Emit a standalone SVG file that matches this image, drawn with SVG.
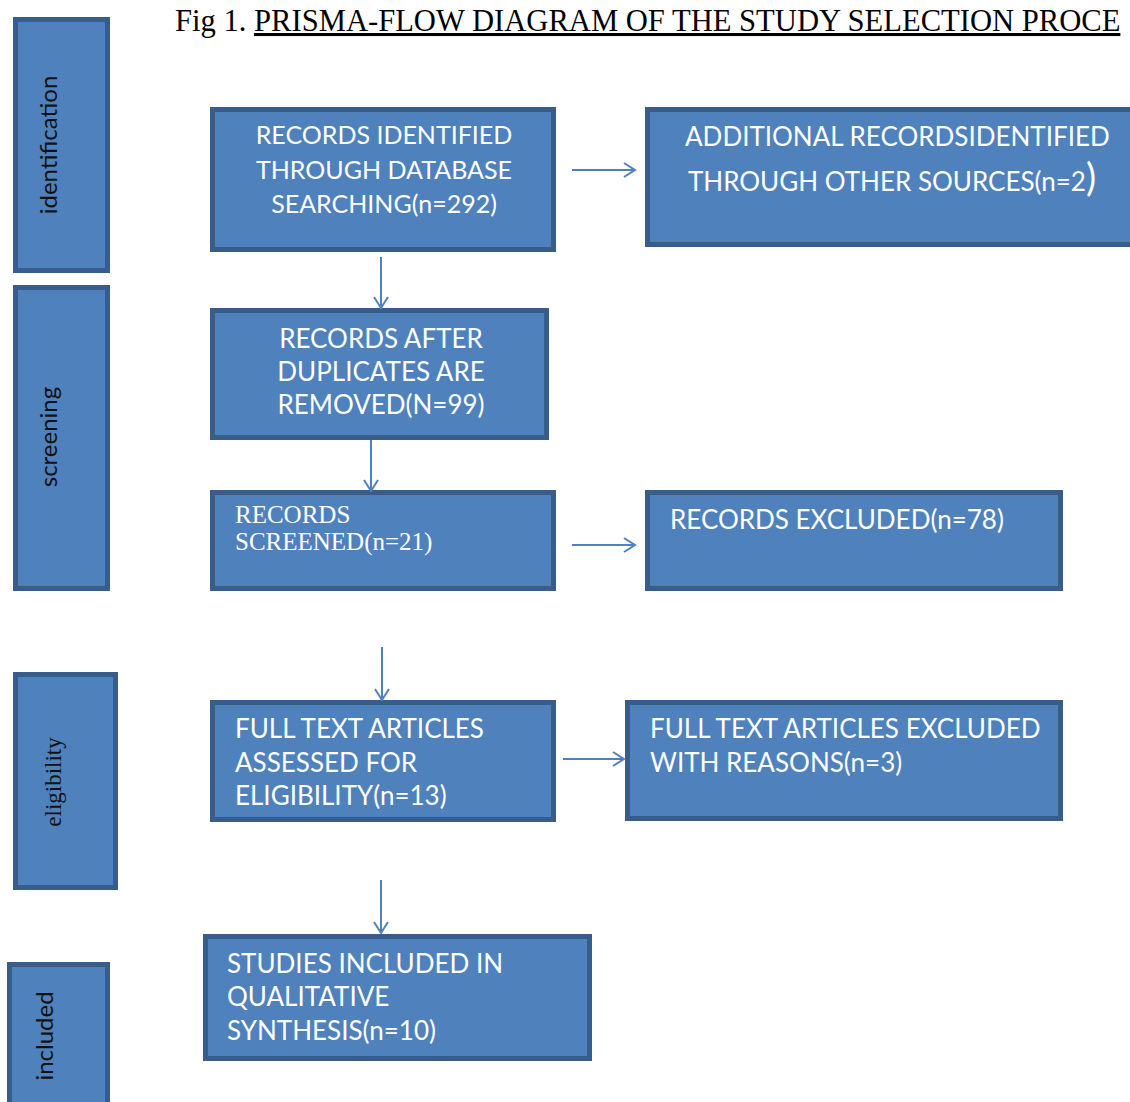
<svg xmlns="http://www.w3.org/2000/svg" width="1130" height="1102" viewBox="0 0 1130 1102">
<style>
.box{fill:#4f81bd;stroke:#385d8a;stroke-width:5}
.t{font-family:Lato,"Liberation Sans",sans-serif;font-size:26px;fill:#ffffff}
.t1{font-size:25px}
.ts{font-family:"Liberation Serif",serif;font-size:25px;fill:#ffffff}
.lane{font-family:Lato,"Liberation Sans",sans-serif;font-size:24px;fill:#111111}
.lanes{font-family:"Liberation Serif",serif;font-size:23px;fill:#111111}
.c{fill:none;stroke:#4f81bd;stroke-width:2}
</style>
<defs>
<marker id="ah" markerUnits="userSpaceOnUse" markerWidth="16" markerHeight="18" refX="12" refY="8" orient="auto">
<path d="M1,1 L12,8 L1,15" fill="none" stroke="#4f81bd" stroke-width="2"/>
</marker>
</defs>
<rect width="1130" height="1102" fill="#ffffff"/>
<text x="175" y="31" font-family="Liberation Serif,serif" font-size="30.6" fill="#000">Fig 1. <tspan text-decoration="underline">PRISMA-FLOW DIAGRAM OF THE STUDY SELECTION PROCE</tspan></text>

<g id="lane-identification">
<rect class="box" x="15.5" y="19.5" width="92" height="251"/>
<text class="lane" transform="translate(57,145) rotate(-90)" text-anchor="middle">identification</text>
</g>
<g id="lane-screening">
<rect class="box" x="15.5" y="287.5" width="92" height="301"/>
<text class="lane" transform="translate(57,437) rotate(-90)" text-anchor="middle">screening</text>
</g>
<g id="lane-eligibility">
<rect class="box" x="15.5" y="674.5" width="100" height="213"/>
<text class="lanes" transform="translate(61,782) rotate(-90)" text-anchor="middle">eligibility</text>
</g>
<g id="lane-included">
<rect class="box" x="9.5" y="964.5" width="98" height="150"/>
<text class="lane" transform="translate(53,1036) rotate(-90)" text-anchor="middle">included</text>
</g>

<g id="n1">
<rect class="box" x="212.5" y="109.5" width="341" height="140"/>
<text class="t t1" text-anchor="middle"><tspan x="384" y="144">RECORDS IDENTIFIED</tspan><tspan x="384" y="179">THROUGH DATABASE</tspan><tspan x="384" y="213">SEARCHING(n=292)</tspan></text>
</g>
<g id="n2">
<rect class="box" x="647.5" y="109.5" width="500" height="135"/>
<text class="t"><tspan x="685" y="146">ADDITIONAL RECORDSIDENTIFIED</tspan><tspan x="688" y="191">THROUGH OTHER SOURCES(n=2<tspan font-size="38">)</tspan></tspan></text>
</g>
<g id="n3">
<rect class="box" x="212.5" y="310.5" width="334" height="127"/>
<text class="t" text-anchor="middle"><tspan x="381" y="348">RECORDS AFTER</tspan><tspan x="381" y="381">DUPLICATES ARE</tspan><tspan x="381" y="414">REMOVED(N=99)</tspan></text>
</g>
<g id="n4">
<rect class="box" x="212.5" y="492.5" width="341" height="96"/>
<text class="ts"><tspan x="235" y="523">RECORDS</tspan><tspan x="235" y="550">SCREENED(n=21)</tspan></text>
</g>
<g id="n5">
<rect class="box" x="647.5" y="492.5" width="413" height="96"/>
<text class="t" x="670" y="529">RECORDS EXCLUDED(n=78)</text>
</g>
<g id="n6">
<rect class="box" x="212.5" y="702.5" width="341" height="117"/>
<text class="t"><tspan x="235" y="738">FULL TEXT ARTICLES</tspan><tspan x="235" y="772">ASSESSED FOR</tspan><tspan x="235" y="805">ELIGIBILITY(n=13)</tspan></text>
</g>
<g id="n7">
<rect class="box" x="627.5" y="702.5" width="433" height="116"/>
<text class="t"><tspan x="650" y="738">FULL TEXT ARTICLES EXCLUDED</tspan><tspan x="650" y="772">WITH REASONS(n=3)</tspan></text>
</g>
<g id="n8">
<rect class="box" x="205.5" y="936.5" width="384" height="122"/>
<text class="t"><tspan x="227" y="973">STUDIES INCLUDED IN</tspan><tspan x="227" y="1006">QUALITATIVE</tspan><tspan x="227" y="1040">SYNTHESIS(n=10)</tspan></text>
</g>

<g id="connectors">
<line class="c" x1="572" y1="170" x2="635" y2="170" marker-end="url(#ah)"/>
<line class="c" x1="381" y1="257" x2="381" y2="308" marker-end="url(#ah)"/>
<line class="c" x1="371" y1="440" x2="371" y2="491" marker-end="url(#ah)"/>
<line class="c" x1="572" y1="545" x2="635" y2="545" marker-end="url(#ah)"/>
<line class="c" x1="382" y1="647" x2="382" y2="700" marker-end="url(#ah)"/>
<line class="c" x1="563" y1="759" x2="624" y2="759" marker-end="url(#ah)"/>
<line class="c" x1="381" y1="880" x2="381" y2="933" marker-end="url(#ah)"/>
</g>
</svg>
